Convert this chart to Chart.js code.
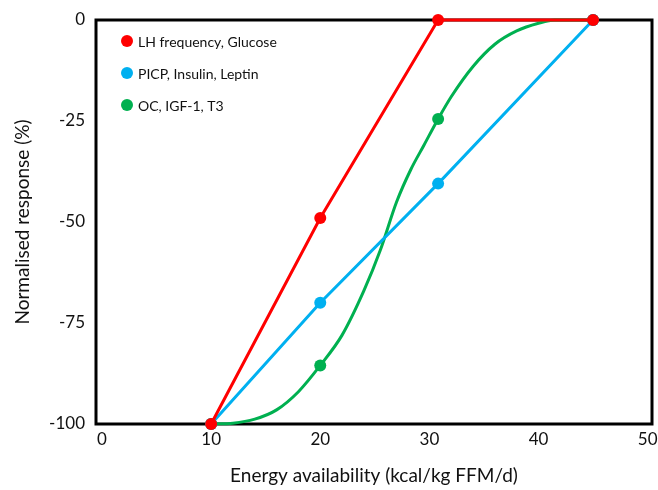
<!DOCTYPE html>
<html><head><meta charset="utf-8">
<script src="https://cdn.jsdelivr.net/npm/chart.js@4"></script>
<style>html,body{margin:0;padding:0;background:#fff}#wrap{width:658px;height:490px}</style>
</head><body><div id="wrap"><canvas id="c" width="658" height="490"></canvas></div>
<script>
const xTicks = [0, 10, 20, 30, 40, 50];
const yTicks = [0, -25, -50, -75, -100];
const seriesNames = ['LH frequency, Glucose', 'PICP, Insulin, Leptin', 'OC, IGF-1, T3'];
const seriesColors = ['#FF0000', '#00B0F0', '#00B050'];

const lhX = [10, 20, 30.8, 45];
const lhY = [-100, -49, 0, 0];

const picpX = [10, 20, 30.8, 45];
const picpY = [-100, -70, -40.5, 0];

const ocX = [10, 12, 14, 16, 18, 20, 22, 24, 25.5, 27, 28.3, 29.5, 30.8, 32, 34, 36, 38, 40, 41.5, 45];
const ocY = [-100, -99.8, -98.8, -96.5, -92, -85.5, -78, -67, -57, -45, -37, -31, -24.5, -19, -11.5, -6, -2.7, -0.8, 0, 0];
const ocMarkedX = [10, 20, 30.8, 45];

const FONT = 'Lato, "Open Sans", sans-serif';
const toPts = (xs, ys) => xs.map((x, i) => ({x: x, y: ys[i]}));

const frame = {
  id: 'frame',
  beforeDatasetsDraw(chart) {
    const {ctx, chartArea: a} = chart;
    ctx.save();
    ctx.lineWidth = 3;
    ctx.strokeStyle = '#000';
    ctx.strokeRect(a.left, a.top, a.right - a.left, a.bottom - a.top);
    ctx.restore();
  }
};

const insideLegend = {
  id: 'insideLegend',
  afterDraw(chart) {
    const {ctx, chartArea: a} = chart;
    ctx.save();
    chart.data.datasets.forEach((ds, i) => {
      const cx = a.left + 31, cy = a.top + 21 + i * 32;
      ctx.beginPath();
      ctx.arc(cx, cy, 6, 0, Math.PI * 2);
      ctx.fillStyle = ds.borderColor;
      ctx.fill();
      ctx.fillStyle = '#111';
      ctx.font = '14px ' + FONT;
      ctx.textBaseline = 'middle';
      ctx.textAlign = 'left';
      ctx.fillText(ds.label, cx + 11, cy + 1);
    });
    ctx.restore();
  }
};

new Chart(document.getElementById('c'), {
  type: 'line',
  data: {
    datasets: [
      {label: seriesNames[0], data: toPts(lhX, lhY), borderColor: seriesColors[0], backgroundColor: seriesColors[0],
       borderWidth: 3, pointRadius: 6, pointBorderWidth: 0, tension: 0, clip: false},
      {label: seriesNames[1], data: toPts(picpX, picpY), borderColor: seriesColors[1], backgroundColor: seriesColors[1],
       borderWidth: 3, pointRadius: 6, pointBorderWidth: 0, tension: 0, clip: false},
      {label: seriesNames[2], data: toPts(ocX, ocY), borderColor: seriesColors[2], backgroundColor: seriesColors[2],
       borderWidth: 3, pointRadius: ocX.map(x => ocMarkedX.includes(x) ? 6 : 0), pointBorderWidth: 0,
       cubicInterpolationMode: 'monotone', clip: false}
    ]
  },
  options: {
    responsive: false,
    devicePixelRatio: 1,
    animation: false,
    layout: {padding: {top: 20, right: 1, left: 0, bottom: 0}},
    plugins: {legend: {display: false}, tooltip: {enabled: false}},
    scales: {
      x: {
        type: 'linear', min: -0.55, max: 50.4,
        afterBuildTicks: s => { s.ticks = xTicks.map(v => ({value: v})); },
        grid: {display: false, drawTicks: false},
        border: {display: false},
        ticks: {padding: 5, color: '#111', font: {family: FONT, size: 17}, maxRotation: 0},
        title: {display: true, text: 'Energy availability (kcal/kg FFM/d)', color: '#111',
                font: {family: FONT, size: 19}, padding: {top: 0, bottom: 3}},
        afterFit: s => { s.height = 66; s.paddingLeft = 0; s.paddingRight = 0; }
      },
      y: {
        min: -100, max: 0,
        afterBuildTicks: s => { s.ticks = yTicks.map(v => ({value: v})); },
        grid: {display: false, drawTicks: false},
        border: {display: false},
        ticks: {padding: 11, color: '#111', font: {family: FONT, size: 17}},
        title: {display: true, text: 'Normalised response (%)', color: '#111',
                font: {family: FONT, size: 19}, padding: {top: 11, bottom: 0}},
        afterFit: s => { s.width = 96; s.paddingTop = 0; s.paddingBottom = 0; }
      }
    }
  },
  plugins: [frame, insideLegend]
});
</script>
</body></html>
